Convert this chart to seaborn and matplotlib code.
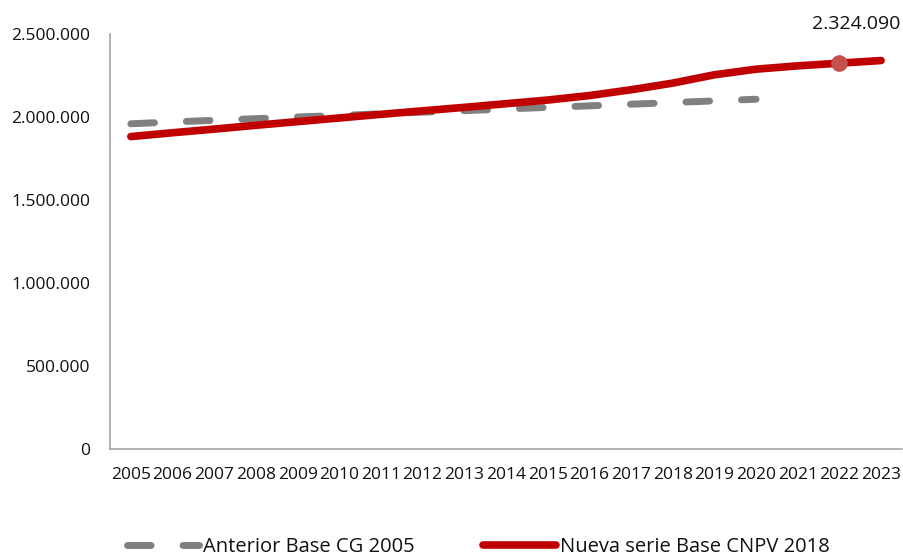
import matplotlib
matplotlib.use("Agg")
import matplotlib.pyplot as plt
import matplotlib.ticker as mticker
import pandas as pd
import seaborn as sns

years = list(range(2005, 2024))

# Anterior Base CG 2005 (2005-2020)
serie_anterior = [1959000, 1970000, 1980000, 1990000, 2000000, 2009000, 2019000, 2029000,
                  2038000, 2048000, 2058000, 2067000, 2077000, 2087000, 2097000, 2107000]
# Nueva serie Base CNPV 2018 (2005-2023)
serie_nueva = [1882000, 1905000, 1927000, 1950000, 1972000, 1994000, 2016000, 2037000,
               2058000, 2080000, 2102000, 2129000, 2164000, 2204000, 2254000, 2288000,
               2308000, 2324090, 2340000]

label_anterior = "Anterior Base CG 2005"
label_nueva = "Nueva serie Base CNPV 2018"
destacado = 2022

sns.set_theme(style="white")
plt.rcParams['font.family'] = ['Open Sans', 'DejaVu Sans']
plt.rcParams['text.color'] = "#111111"

df_ant = pd.DataFrame({"pos": range(len(serie_anterior)), "valor": serie_anterior})
df_new = pd.DataFrame({"pos": range(len(serie_nueva)), "valor": serie_nueva})

fig = plt.figure(figsize=(9.04, 5.56), dpi=100)
ax = fig.add_axes([0.1217, 0.1924, 0.876, 0.7465])

sns.lineplot(data=df_ant, x="pos", y="valor", ax=ax, color="#808080", linewidth=5,
             label=label_anterior)
sns.lineplot(data=df_new, x="pos", y="valor", ax=ax, color="#C00000", linewidth=5.5,
             label=label_nueva)
ax.lines[0].set_dashes((3.4, 4.6))
ax.lines[0].set_dash_capstyle("round")
ax.lines[1].set_solid_capstyle("round")

# highlighted point
i = years.index(destacado)
ax.plot(i, serie_nueva[i], "o", color="#C55050", markersize=11, zorder=5)
ax.annotate(f"{serie_nueva[i]:,}".replace(",", "."), (i, serie_nueva[i]),
            xytext=(12, 28), textcoords="offset points", ha="center", va="center",
            fontsize=14, color="#111111")

ax.set_xlim(-0.5, len(years) - 0.5)
ax.set_ylim(0, 2500000)
ax.yaxis.set_major_locator(mticker.MultipleLocator(500000))
ax.yaxis.set_major_formatter(mticker.FuncFormatter(lambda v, p: f"{int(v):,}".replace(",", ".")))

ax.set_xticks([k - 0.5 for k in range(len(years) + 1)])
ax.set_xticklabels([])
ax.set_xticks(range(len(years)), minor=True)
ax.set_xticklabels([str(y) for y in years], minor=True)
ax.tick_params(axis="x", which="major", length=5, width=1, color="#A6A6A6", direction="out")
ax.tick_params(axis="x", which="minor", length=0, pad=13, labelsize=12.5, labelcolor="#111111")
ax.tick_params(axis="y", length=0, pad=14, labelsize=12.5, labelcolor="#111111")
ax.set_xlabel("")
ax.set_ylabel("")

for s in ["top", "right"]:
    ax.spines[s].set_visible(False)
for s in ["left", "bottom"]:
    ax.spines[s].set_color("#A6A6A6")
    ax.spines[s].set_linewidth(1.2)

ax.get_legend().remove()
handles, labels = ax.get_legend_handles_labels()
fig.legend(handles, labels, loc="lower center", bbox_to_anchor=(0.529, -0.035), ncol=2,
           frameon=False, fontsize=14.5, handlelength=3.6, handletextpad=0.2, columnspacing=3.4)

fig.savefig("out.png", dpi=100)
